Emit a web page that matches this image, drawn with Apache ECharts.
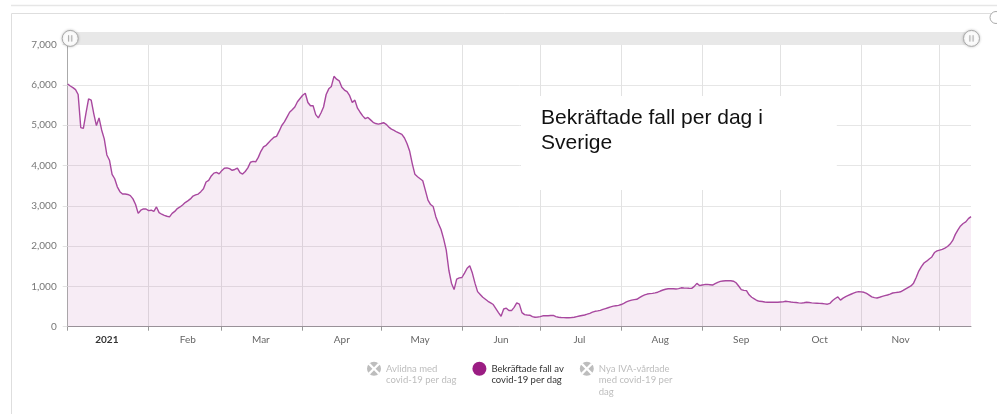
<!DOCTYPE html>
<html>
<head>
<meta charset="utf-8">
<script src="https://cdn.jsdelivr.net/npm/echarts@6/dist/echarts.min.js"></script>
<style>
  html, body { margin: 0; padding: 0; background: #fff; }
  #chart { width: 997px; height: 414px; }
</style>
</head>
<body>
<div id="chart"></div>
<script>
// daily confirmed cases per month, 2021
var jan = [6020,5970,5930,5880,5760,4940,4920,5300,5650,5620,5280,4990,5180,4880,4660,4260,4130,3780,3670,3470,3350,3290,3290,3280,3250,3170,3030,2810,2890,2920,2920];
var feb = [2880,2890,2860,2970,2830,2790,2760,2740,2725,2810,2860,2930,2970,3020,3080,3120,3170,3240,3270,3290,3350,3420,3590,3630,3740,3810,3830,3790];
var mar = [3870,3930,3940,3920,3880,3900,3935,3820,3785,3850,3940,4080,4100,4090,4200,4350,4460,4500,4570,4640,4700,4720,4850,4990,5080,5200,5320,5380,5450,5580,5660];
var apr = [5740,5790,5560,5480,5480,5260,5180,5300,5450,5760,5900,5960,6210,6140,6100,5940,5870,5830,5730,5560,5620,5420,5320,5230,5160,5190,5130,5070,5040,5025];
var may = [5040,5060,5020,4950,4900,4870,4830,4800,4770,4680,4540,4350,4040,3780,3720,3670,3620,3380,3140,3030,2980,2730,2560,2410,2180,1900,1400,1080,920,1180,1210];
var jun = [1220,1330,1450,1510,1330,1080,870,800,730,680,630,590,550,450,350,260,440,460,400,400,480,590,560,350,300,290,285,250,235,240];
var jul = [250,270,272,273,278,280,250,235,228,224,222,223,228,235,250,265,278,290,310,332,360,382,392,405,430,450,470,490,510,520,530];
var aug = [550,580,615,640,660,672,680,720,760,790,810,820,828,840,855,885,910,930,942,942,940,936,945,965,960,958,952,950,1000,1075,1020];
var sep = [1034,1045,1050,1042,1034,1070,1100,1123,1135,1140,1142,1140,1128,1090,1010,920,900,895,790,730,690,650,630,625,612,607,607,607,607,608];
var oct = [612,615,630,622,612,603,599,590,584,595,607,600,592,586,582,578,574,566,558,580,650,700,740,660,710,745,775,805,835,858,869];
var nov = [865,853,825,785,740,720,713,730,752,770,787,810,836,846,853,866,900,940,975,1010,1080,1220,1380,1490,1580,1625,1680,1730,1840,1880];
var dec = [1900,1920,1950,1990,2050,2140,2290,2400,2500,2560,2600,2680,2730];

var monthData = [jan, feb, mar, apr, may, jun, jul, aug, sep, oct, nov, dec];
var monthNames = ['2021', 'Feb', 'Mar', 'Apr', 'May', 'Jun', 'Jul', 'Aug', 'Sep', 'Oct', 'Nov', 'Dec'];
var yTicks = [0, 1000, 2000, 3000, 4000, 5000, 6000, 7000];

var seriesNames = ['Avlidna med covid-19 per dag', 'Bekräftade fall av covid-19 per dag', 'Nya IVA-vårdade med covid-19 per dag'];
// leading blank lines keep the first text line level with the legend icon
var legendLabels = ['\nAvlidna med\ncovid-19 per dag', '\nBekräftade fall av\ncovid-19 per dag', '\n\nNya IVA-vårdade\nmed covid-19 per\ndag'];

function pad(n) { return n < 10 ? '0' + n : '' + n; }

var days = [];
var cases = [];
monthData.forEach(function (arr, m) {
    arr.forEach(function (v, d) {
        days.push('2021-' + pad(m + 1) + '-' + pad(d + 1));
        cases.push(v);
    });
});

var xIcon = 'path://M10,0A10,10 0 1,1 10,20A10,10 0 1,1 10,0Z M10,7.74L4.17,1.9L1.9,4.17L7.74,10L1.9,15.83L4.17,18.1L10,12.26L15.83,18.1L18.1,15.83L12.26,10L18.1,4.17L15.83,1.9Z';
var handleIcon = 'path://M10,0A10,10 0 1,1 10,20A10,10 0 1,1 10,0Z M8,6L8,14 M12,6L12,14';
var font = 'Lato, "Open Sans", sans-serif';

var chart = echarts.init(document.getElementById('chart'));

var selected = {};
selected[seriesNames[0]] = false;
selected[seriesNames[1]] = true;
selected[seriesNames[2]] = false;

var option = {
    animation: false,
    backgroundColor: '#fff',
    title: {
        text: 'Bekräftade fall per dag i\nSverige',
        left: 521,
        top: 96,
        padding: [10, 74, 34, 20],
        backgroundColor: '#fff',
        textStyle: {
            fontFamily: '"Liberation Sans", Arial, sans-serif',
            fontSize: 21,
            fontWeight: 'normal',
            lineHeight: 25,
            color: '#111'
        }
    },
    graphic: [
        { type: 'line', silent: true, shape: { x1: 11, y1: 5.5, x2: 997, y2: 5.5 }, style: { stroke: '#e6e6e6', lineWidth: 1.5 } },
        { type: 'rect', silent: true, shape: { x: 11.5, y: 13.5, width: 1000, height: 500 }, style: { fill: 'none', stroke: '#dedede', lineWidth: 1 } },
        { type: 'circle', silent: true, shape: { cx: 996, cy: 17.5, r: 6 }, style: { fill: '#fff', stroke: '#aaa', lineWidth: 1 } }
    ],
    grid: {
        left: 67.7,
        right: 26,
        top: 44.5,
        bottom: 87.3
    },
    dataZoom: [{
        type: 'slider',
        xAxisIndex: 0,
        start: 0,
        end: 100,
        left: 67.7,
        right: 26,
        top: 31.7,
        height: 12.6,
        backgroundColor: '#e8e8e8',
        fillerColor: 'rgba(0,0,0,0)',
        borderColor: 'transparent',
        borderRadius: 0,
        showDataShadow: false,
        showDetail: false,
        brushSelect: false,
        moveHandleSize: 0,
        handleIcon: handleIcon,
        handleSize: 16,
        handleStyle: { color: '#fff', borderColor: '#aaa', borderWidth: 1, shadowBlur: 3, shadowColor: 'rgba(0,0,0,0.2)' },
        dataBackground: { lineStyle: { opacity: 0 }, areaStyle: { opacity: 0 } },
        selectedDataBackground: { lineStyle: { opacity: 0 }, areaStyle: { opacity: 0 } }
    }],
    legend: {
        left: 362,
        top: 335,
        orient: 'horizontal',
        itemWidth: 14,
        itemHeight: 14,
        itemGap: 16,
        selectedMode: false,
        selected: selected,
        inactiveColor: '#bdbdbd',
        inactiveBorderColor: 'transparent',
        itemStyle: { borderWidth: 0 },
        textStyle: { fontFamily: font, fontSize: 9.5, lineHeight: 11.5, color: '#333' },
        formatter: function (name) { return legendLabels[seriesNames.indexOf(name)]; },
        data: [
            { name: seriesNames[0], icon: xIcon },
            { name: seriesNames[1], icon: 'circle', itemStyle: { color: '#9b1d83' } },
            { name: seriesNames[2], icon: xIcon }
        ]
    },
    xAxis: {
        type: 'category',
        data: days,
        boundaryGap: false,
        axisLine: { lineStyle: { color: '#999', width: 1 } },
        axisTick: {
            length: 4,
            lineStyle: { color: '#999' },
            interval: function (i, v) { return v.slice(8) === '01'; }
        },
        splitLine: {
            show: true,
            lineStyle: { color: '#e2e2e2' },
            interval: function (i, v) { return v.slice(8) === '01'; }
        },
        axisLabel: {
            margin: 8,
            fontFamily: font,
            fontSize: 10,
            color: '#666',
            interval: function (i, v) { return v.slice(8) === '16'; },
            formatter: function (v) {
                var m = parseInt(v.slice(5, 7), 10) - 1;
                return m === 0 ? '{y|' + monthNames[0] + '}' : monthNames[m];
            },
            rich: { y: { fontFamily: font, fontSize: 10, fontWeight: 'bold', color: '#333' } }
        }
    },
    yAxis: {
        type: 'value',
        min: yTicks[0],
        max: yTicks[yTicks.length - 1],
        interval: 1000,
        axisLine: { show: true, lineStyle: { color: '#aaa', width: 1 } },
        axisTick: { show: true, length: 5, lineStyle: { color: '#e2e2e2' } },
        splitLine: { lineStyle: { color: '#e6e6e6' } },
        axisLabel: {
            margin: 11,
            fontFamily: font,
            fontSize: 10,
            color: '#777',
            formatter: function (v) { return v.toLocaleString('en-US'); }
        }
    },
    series: [
        { name: seriesNames[0], type: 'line', data: [], color: '#bbb' },
        {
            name: seriesNames[1],
            type: 'line',
            data: cases,
            showSymbol: false,
            color: '#9b1d83',
            lineStyle: { color: '#a8489f', width: 1.4 },
            areaStyle: { color: 'rgba(158,40,140,0.12)' }
        },
        { name: seriesNames[2], type: 'line', data: [], color: '#bbb' }
    ]
};

chart.setOption(option);
</script>
</body>
</html>
